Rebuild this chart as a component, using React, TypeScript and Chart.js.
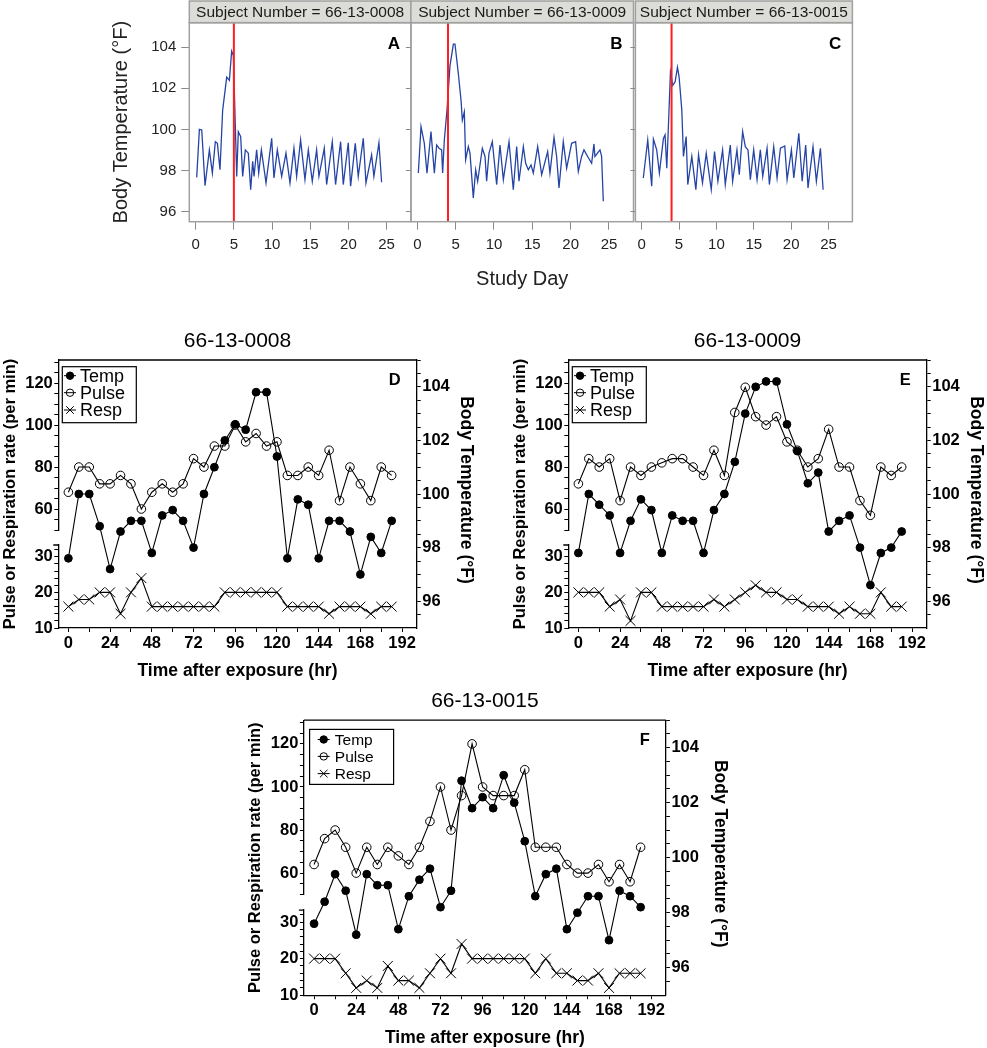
import { useEffect, useRef } from "react";
import { Chart, registerables } from "chart.js";

Chart.register(...registerables);

const FONT = "'Liberation Sans', Arial, Helvetica, sans-serif";

// ---------- panels A-C : whole study temperature record ----------
const subjects = ["66-13-0008", "66-13-0009", "66-13-0015"];
const exposureDay = [5, 4, 4];
const dayTicks = [0, 5, 10, 15, 20, 25];
const studyTempTicks = [96, 98, 100, 102, 104];

// [study day, body temperature °F]
const record0008 = [
  [0.13, 97.66], [0.48, 100.0], [0.79, 99.97], [1.22, 97.26], [1.79, 99.0], [2.18, 97.87],
  [2.57, 99.4], [2.84, 99.32], [3.18, 98.03], [3.53, 100.94], [4.06, 102.55], [4.41, 102.39],
  [4.71, 103.81], [4.93, 103.6], [5.37, 97.71], [5.58, 99.89], [5.89, 99.65], [6.15, 97.71],
  [6.5, 99.0], [6.89, 98.84], [7.2, 97.06], [7.46, 98.44], [7.64, 97.71], [7.98, 99.0],
  [8.25, 97.87], [8.6, 99.0], [9.21, 97.39], [9.95, 99.56], [10.25, 97.63], [10.69, 99.0],
  [11.26, 97.71], [11.82, 98.84], [12.35, 97.39], [12.87, 99.08], [13.22, 97.71], [13.74, 99.48],
  [14.31, 97.55], [14.75, 99.0], [15.27, 97.47], [15.84, 99.0], [16.14, 97.71], [16.84, 99.08],
  [17.15, 97.31], [17.89, 99.4], [18.32, 97.31], [18.98, 99.4], [19.33, 97.31], [19.98, 99.35],
  [20.29, 97.23], [20.9, 99.32], [21.29, 97.71], [21.95, 99.56], [22.3, 97.39], [23.04, 98.76],
  [23.34, 97.71], [24.0, 99.35], [24.35, 97.42],
];
const record0009 = [
  [0.13, 97.87], [0.48, 100.13], [0.91, 99.32], [1.26, 97.87], [1.78, 99.89], [2.22, 97.87],
  [2.52, 99.24], [2.83, 99.08], [3.17, 99.0], [3.3, 97.87], [3.52, 99.48], [3.87, 100.94],
  [4.26, 103.11], [4.7, 104.16], [4.91, 104.16], [5.35, 102.71], [5.7, 101.42], [5.87, 100.45],
  [6.13, 100.85], [6.3, 98.52], [6.65, 99.16], [6.87, 98.84], [7.3, 96.66], [7.61, 98.03],
  [7.87, 97.47], [8.48, 99.08], [8.83, 98.68], [9.04, 97.47], [9.35, 98.84], [9.78, 99.4],
  [10.35, 97.31], [10.78, 99.24], [11.22, 97.55], [11.96, 99.4], [12.52, 97.06], [12.96, 99.16],
  [13.26, 97.47], [13.83, 99.16], [14.13, 98.35], [14.48, 98.03], [14.83, 98.27], [15.13, 97.87],
  [15.7, 99.16], [16.22, 97.79], [17.0, 98.92], [17.3, 97.87], [17.83, 99.61], [18.17, 98.68],
  [18.48, 97.15], [19.04, 99.4], [19.48, 98.11], [20.13, 99.32], [20.65, 99.4], [21.0, 97.95],
  [21.43, 98.68], [21.74, 99.0], [22.22, 98.68], [22.74, 98.35], [23.04, 99.29], [23.17, 98.68],
  [23.83, 99.0], [24.04, 98.68], [24.26, 96.5],
];
const record0015 = [
  [0.22, 97.63], [0.81, 99.48], [1.34, 97.23], [1.57, 99.52], [2.01, 99.0], [2.37, 97.87],
  [2.91, 99.56], [3.13, 99.73], [3.36, 98.11], [3.71, 101.42], [3.85, 102.79], [4.16, 102.15],
  [4.47, 102.31], [4.79, 103.03], [5.01, 102.55], [5.37, 100.94], [5.59, 98.68], [5.95, 99.65],
  [6.17, 97.31], [6.71, 98.68], [7.25, 97.06], [7.61, 98.76], [8.14, 97.39], [8.64, 98.84],
  [9.31, 97.06], [9.75, 98.92], [10.2, 97.47], [10.83, 99.0], [11.19, 97.31], [11.86, 99.24],
  [12.17, 97.47], [12.75, 99.0], [13.06, 97.79], [13.51, 99.89], [13.87, 99.16], [14.23, 99.0],
  [14.54, 97.55], [14.99, 99.0], [15.44, 97.55], [15.88, 99.0], [16.2, 97.71], [16.78, 99.08],
  [17.09, 97.31], [17.67, 99.16], [18.12, 97.63], [18.57, 99.08], [19.15, 99.19], [19.46, 97.55],
  [20.04, 99.0], [20.36, 97.63], [21.03, 99.81], [21.48, 97.47], [21.95, 99.24], [22.26, 97.15],
  [22.93, 99.16], [23.38, 97.47], [23.92, 99.08], [24.28, 97.06],
];

// ---------- panels D-F : vital signs after exposure ----------
const hours = [
  0, 6, 12, 18, 24, 30, 36, 42, 48, 54, 60, 66, 72, 78, 84, 90,
  96, 102, 108, 114, 120, 126, 132, 138, 144, 150, 156, 162, 168, 174, 180, 186,
];
const hourTicks = [0, 24, 48, 72, 96, 120, 144, 168, 192];
const rateTicksUpper = [60, 80, 100, 120];
const rateTicksLower = [10, 20, 30];
const bodyTempTicks = [96, 98, 100, 102, 104];

const temp0008 = [97.6, 100.0, 100.0, 98.8, 97.2, 98.6, 99.0, 99.0, 97.8, 99.2, 99.4, 99.0, 98.0, 100.0, 101.0, 102.0, 102.6, 102.4, 103.8, 103.8, 101.4, 97.6, 99.8, 99.6, 97.6, 99.0, 99.0, 98.6, 97.0, 98.4, 97.8, 99.0];
const pulse0008 = [68, 80, 80, 72, 72, 76, 72, 60, 68, 72, 68, 72, 84, 80, 90, 90, 100, 92, 96, 90, 92, 76, 76, 80, 76, 88, 64, 80, 72, 64, 80, 76];
const resp0008 = [16, 18, 18, 20, 20, 14, 20, 24, 16, 16, 16, 16, 16, 16, 16, 20, 20, 20, 20, 20, 20, 16, 16, 16, 16, 14, 16, 16, 16, 14, 16, 16];

const temp0009 = [97.8, 100.0, 99.6, 99.2, 97.8, 99.0, 99.8, 99.4, 97.8, 99.2, 99.0, 99.0, 97.8, 99.4, 100.0, 101.2, 103.0, 104.0, 104.2, 104.2, 102.6, 101.6, 100.4, 100.8, 98.6, 99.0, 99.2, 98.0, 96.6, 97.8, 98.0, 98.6];
const pulse0009 = [72, 84, 80, 84, 64, 80, 76, 80, 82, 84, 84, 80, 76, 88, 76, 106, 118, 104, 100, 104, 92, 88, 80, 84, 98, 80, 80, 64, 57, 80, 76, 80];
const resp0009 = [20, 20, 20, 16, 18, 12, 20, 20, 16, 16, 16, 16, 16, 18, 16, 18, 20, 22, 20, 20, 18, 18, 16, 16, 16, 14, 16, 14, 14, 20, 16, 16];

const temp0015 = [97.6, 98.4, 99.4, 98.8, 97.2, 99.4, 99.0, 99.0, 97.4, 98.6, 99.2, 99.6, 98.2, 98.8, 102.8, 101.8, 102.2, 101.8, 103.0, 102.0, 100.6, 98.6, 99.4, 99.6, 97.4, 98.0, 98.6, 98.6, 97.0, 98.8, 98.6, 98.2];
const pulse0015 = [64, 76, 80, 72, 60, 72, 64, 72, 68, 64, 72, 84, 100, 80, 96, 120, 100, 96, 96, 96, 108, 72, 72, 72, 64, 60, 60, 64, 56, 64, 56, 72];
const resp0015 = [20, 20, 20, 16, 12, 14, 12, 18, 14, 14, 12, 16, 20, 16, 24, 20, 20, 20, 20, 20, 20, 16, 20, 16, 16, 14, 14, 16, 12, 16, 16, 16];

type Box = { x: number; y: number; w: number; h: number };
type Area = { l: number; t: number; r: number; b: number };

const ticksAt = (values: number[]) => (scale: any) => {
  scale.ticks = values.map((value) => ({ value }));
};
const fixWidth = (w: number) => (scale: any) => {
  scale.width = w;
};
const fixHeight = (h: number) => (scale: any) => {
  scale.height = h;
};
// minor tick positions for an axis
const between = (from: number, to: number, step: number) => {
  const out: number[] = [];
  for (let v = from; v <= to + 1e-9; v += step) out.push(Math.round(v * 100) / 100);
  return out;
};

const STUDY_X = [-0.84, 28.2];
const STUDY_Y = [95.5, 105.2];

function TempPanel(props: {
  box: Box;
  area: Area;
  record: number[][];
  exposure: number;
  subject: string;
  letter: string;
  first?: boolean;
  xTitle?: boolean;
}) {
  const ref = useRef<HTMLCanvasElement>(null);
  const { box, area } = props;

  useEffect(() => {
    if (!ref.current) return;
    const yW = 45;
    const xH = 40;
    const grey = "#a0a0a0";

    const decor = {
      id: "studyDecor",
      afterDraw(c: any) {
        const { ctx } = c;
        const { left, top, right, bottom } = c.chartArea;
        ctx.save();
        ctx.fillStyle = "#dcdcd8";
        ctx.fillRect(left, 1, right - left, top - 1);
        ctx.strokeStyle = grey;
        ctx.lineWidth = 1.5;
        ctx.strokeRect(left, 1, right - left, top - 1);
        ctx.strokeRect(left, top, right - left, bottom - top);

        ctx.fillStyle = "#1a1a1a";
        ctx.font = `15.5px ${FONT}`;
        ctx.textAlign = "center";
        ctx.textBaseline = "middle";
        ctx.fillText(`Subject Number = ${props.subject}`, (left + right) / 2, top / 2 + 1);

        ctx.fillStyle = "#000";
        ctx.font = `bold 17px ${FONT}`;
        ctx.textAlign = "right";
        ctx.fillText(props.letter, right - 11, top + 22);

        ctx.fillStyle = "#222";
        ctx.textAlign = "center";
        if (props.first) {
          ctx.save();
          ctx.translate(left - 68, (top + bottom) / 2);
          ctx.rotate(-Math.PI / 2);
          ctx.font = `20px ${FONT}`;
          ctx.fillText("Body Temperature (°F)", 0, 0);
          ctx.restore();
        }
        if (props.xTitle) {
          ctx.font = `20px ${FONT}`;
          ctx.fillText("Study Day", (left + right) / 2, bottom + 58);
        }
        ctx.restore();
      },
    };

    const chart = new Chart(ref.current, {
      type: "line",
      data: {
        datasets: [
          {
            data: [
              { x: props.exposure, y: STUDY_Y[0] },
              { x: props.exposure, y: STUDY_Y[1] },
            ],
            borderColor: "#ff1f1f",
            borderWidth: 2,
            pointRadius: 0,
          },
          {
            data: props.record.map(([x, y]) => ({ x, y })),
            borderColor: "#2544a6",
            borderWidth: 1.3,
            pointRadius: 0,
            tension: 0,
          },
        ],
      },
      options: {
        responsive: false,
        animation: false,
        events: [],
        layout: {
          padding: {
            left: area.l - box.x - yW,
            top: area.t - box.y,
            right: box.x + box.w - area.r,
            bottom: box.y + box.h - area.b - xH,
          },
        },
        plugins: { legend: { display: false }, tooltip: { enabled: false } },
        scales: {
          x: {
            type: "linear",
            min: STUDY_X[0],
            max: STUDY_X[1],
            afterBuildTicks: ticksAt(dayTicks),
            afterFit: fixHeight(xH),
            grid: { drawOnChartArea: false, tickLength: 8, color: "#8a8a8a" },
            border: { display: false },
            ticks: { font: { family: FONT, size: 15 }, color: "#222", padding: 6, maxRotation: 0, autoSkip: false },
          },
          y: {
            type: "linear",
            min: STUDY_Y[0],
            max: STUDY_Y[1],
            afterBuildTicks: ticksAt(studyTempTicks),
            afterFit: fixWidth(yW),
            grid: { drawOnChartArea: false, tickLength: props.first ? 8 : 5, color: "#8a8a8a" },
            border: { display: false },
            ticks: { display: !!props.first, font: { family: FONT, size: 15 }, color: "#222", padding: 5, autoSkip: false },
          },
        },
      } as any,
      plugins: [decor],
    });
    return () => chart.destroy();
  }, []);

  return (
    <canvas
      ref={ref}
      width={box.w}
      height={box.h}
      style={{ position: "absolute", left: box.x, top: box.y, width: box.w, height: box.h }}
    />
  );
}

type LegendStyle = { x: number; y: number; w: number; h: number; sx: number; tx: number; rows: number[]; size: number };

function drawMarker(ctx: CanvasRenderingContext2D, style: string, filled: boolean, x: number, y: number, r: number) {
  ctx.beginPath();
  if (style === "crossRot") {
    ctx.moveTo(x - r, y - r);
    ctx.lineTo(x + r, y + r);
    ctx.moveTo(x - r, y + r);
    ctx.lineTo(x + r, y - r);
    ctx.stroke();
    return;
  }
  ctx.arc(x, y, r, 0, Math.PI * 2);
  if (filled) ctx.fill();
  ctx.stroke();
}

function VitalsPanel(props: {
  box: Box;
  area: Area;
  subject: string;
  letter: string;
  temp: number[];
  pulse: number[];
  resp: number[];
  legend: LegendStyle;
  rightTitleDx: number;
}) {
  const ref = useRef<HTMLCanvasElement>(null);
  const { box, area } = props;

  useEffect(() => {
    if (!ref.current) return;
    const sideW = 38;
    const xH = 30;
    const tickFont = { family: FONT, size: 16.5, weight: "bold" };

    const decor = {
      id: "vitalsDecor",
      afterDraw(c: any) {
        const { ctx, scales } = c;
        const { left, top, right, bottom } = c.chartArea;
        ctx.save();
        ctx.strokeStyle = "#000";
        ctx.fillStyle = "#000";
        ctx.lineWidth = 1.3;
        ctx.beginPath();
        ctx.moveTo(left, top);
        ctx.lineTo(right, top);
        // end cap on the lower part of the broken left axis
        ctx.moveTo(left - 5, scales.yResp.top);
        ctx.lineTo(left, scales.yResp.top);
        ctx.stroke();

        // legend
        const L = props.legend;
        ctx.lineWidth = 1.2;
        ctx.strokeRect(left + L.x, top + L.y, L.w, L.h);
        ctx.font = `${L.size}px ${FONT}`;
        ctx.textAlign = "left";
        ctx.textBaseline = "middle";
        c.data.datasets.forEach((ds: any, i: number) => {
          const cx = left + L.sx;
          const cy = top + L.rows[i];
          ctx.lineWidth = 1;
          ctx.beginPath();
          ctx.moveTo(cx - 6, cy);
          ctx.lineTo(cx + 6, cy);
          ctx.stroke();
          drawMarker(ctx, ds.pointStyle, ds.pointBackgroundColor === "#000", cx, cy, ds.pointStyle === "crossRot" ? 3.8 : 3.7);
          ctx.fillText(ds.label, left + L.tx, cy + 1);
        });

        // panel letter and titles
        ctx.font = `bold 16.5px ${FONT}`;
        ctx.textAlign = "right";
        ctx.fillText(props.letter, right - 16, top + 20);

        ctx.textAlign = "center";
        ctx.textBaseline = "alphabetic";
        ctx.font = `21px ${FONT}`;
        ctx.fillText(props.subject, (left + right) / 2, top - 13);

        ctx.textBaseline = "middle";
        ctx.font = `bold 17.5px ${FONT}`;
        ctx.fillText("Time after exposure (hr)", (left + right) / 2, bottom + 43);

        ctx.save();
        ctx.translate(left - 48, (top + bottom) / 2);
        ctx.rotate(-Math.PI / 2);
        ctx.font = `bold 16.5px ${FONT}`;
        ctx.fillText("Pulse or Respiration rate (per min)", 0, 0);
        ctx.restore();

        ctx.save();
        ctx.translate(right + props.rightTitleDx, (top + bottom) / 2 - 4);
        ctx.rotate(Math.PI / 2);
        ctx.font = `bold 17.5px ${FONT}`;
        ctx.fillText("Body Temperature (°F)", 0, 0);
        ctx.restore();
        ctx.restore();
      },
    };

    const axisCommon = (major: number[], minor: number[]) => ({
      type: "linear",
      afterBuildTicks: ticksAt(minor),
      grid: { drawOnChartArea: false, tickLength: 4, color: "#000", lineWidth: 1 },
      border: { display: true, color: "#000", width: 1.3 },
      ticks: {
        font: tickFont,
        color: "#000",
        padding: 1.5,
        autoSkip: false,
        maxRotation: 0,
        callback: (v: number) => (major.includes(v) ? String(v) : ""),
      },
    });

    const series = (values: number[]) => values.map((y, i) => ({ x: hours[i], y }));

    const chart = new Chart(ref.current, {
      type: "line",
      data: {
        datasets: [
          {
            label: "Temp",
            data: series(props.temp),
            yAxisID: "yTemp",
            borderColor: "#000",
            borderWidth: 1.1,
            pointStyle: "circle",
            pointRadius: 3.9,
            pointBackgroundColor: "#000",
            pointBorderColor: "#000",
            pointBorderWidth: 1,
            clip: false,
          },
          {
            label: "Pulse",
            data: series(props.pulse),
            yAxisID: "yPulse",
            borderColor: "#000",
            borderWidth: 1.1,
            pointStyle: "circle",
            pointRadius: 4.3,
            pointBackgroundColor: "rgba(0,0,0,0)",
            pointBorderColor: "#000",
            pointBorderWidth: 1,
            clip: false,
          },
          {
            label: "Resp",
            data: series(props.resp),
            yAxisID: "yResp",
            borderColor: "#000",
            borderWidth: 1.1,
            pointStyle: "crossRot",
            pointRadius: 7,
            pointBorderColor: "#000",
            pointBorderWidth: 1,
            clip: false,
          },
        ],
      },
      options: {
        responsive: false,
        animation: false,
        events: [],
        layout: {
          padding: {
            left: area.l - box.x - sideW,
            top: area.t - box.y,
            right: box.x + box.w - area.r - sideW,
            bottom: box.y + box.h - area.b - xH,
          },
        },
        plugins: { legend: { display: false }, tooltip: { enabled: false } },
        scales: {
          x: { ...axisCommon(hourTicks, between(0, 192, 12)), position: "bottom", min: -5.8, max: 200.4, afterFit: fixHeight(xH) },
          yTemp: { ...axisCommon(bodyTempTicks, between(95.5, 105, 0.5)), position: "right", min: 95, max: 105, afterFit: fixWidth(sideW) },
          yPulse: {
            ...axisCommon(rateTicksUpper, between(50, 130, 5)),
            position: "left",
            stack: "rate",
            stackWeight: 170,
            weight: 3,
            min: 50,
            max: 131,
            afterFit: fixWidth(sideW),
          },
          yGap: {
            type: "linear",
            position: "left",
            stack: "rate",
            stackWeight: 15,
            weight: 2,
            min: 0,
            max: 1,
            afterFit: fixWidth(sideW),
            grid: { display: false },
            border: { display: false },
            ticks: { display: false },
          },
          yResp: {
            ...axisCommon(rateTicksLower, between(10, 32, 2)),
            position: "left",
            stack: "rate",
            stackWeight: 83,
            weight: 1,
            min: 10,
            max: 33.3,
            afterFit: fixWidth(sideW),
          },
        },
      } as any,
      plugins: [decor],
    });
    return () => chart.destroy();
  }, []);

  return (
    <canvas
      ref={ref}
      width={box.w}
      height={box.h}
      style={{ position: "absolute", left: box.x, top: box.y, width: box.w, height: box.h }}
    />
  );
}

const legendDE: LegendStyle = { x: 4, y: 6.7, w: 74, h: 56, sx: 11.7, tx: 21.7, rows: [15.7, 32.7, 50], size: 18 };
const legendF: LegendStyle = { x: 5.7, y: 9.2, w: 84, h: 55, sx: 19.8, tx: 30.9, rows: [19.3, 36.2, 53.4], size: 15.5 };

export default function App() {
  return (
    <div style={{ position: "absolute", left: 0, top: 0, width: 987, height: 1048, background: "#fff", overflow: "hidden" }}>
      <TempPanel
        box={{ x: 90, y: 0, w: 335, h: 300 }}
        area={{ l: 189.3, t: 22.7, r: 411, b: 221.7 }}
        record={record0008}
        exposure={exposureDay[0]}
        subject={subjects[0]}
        letter="A"
        first
      />
      <TempPanel
        box={{ x: 355, y: 0, w: 290, h: 300 }}
        area={{ l: 410.9, t: 22.7, r: 633.5, b: 221.7 }}
        record={record0009}
        exposure={exposureDay[1]}
        subject={subjects[1]}
        letter="B"
        xTitle
      />
      <TempPanel
        box={{ x: 580, y: 0, w: 285, h: 300 }}
        area={{ l: 635.4, t: 22.7, r: 852.4, b: 221.7 }}
        record={record0015}
        exposure={exposureDay[2]}
        subject={subjects[2]}
        letter="C"
      />
      <VitalsPanel
        box={{ x: 0, y: 300, w: 500, h: 400 }}
        area={{ l: 58.3, t: 360, r: 416.7, b: 628 }}
        subject={subjects[0]}
        letter="D"
        temp={temp0008}
        pulse={pulse0008}
        resp={resp0008}
        legend={legendDE}
        rightTitleDx={49}
      />
      <VitalsPanel
        box={{ x: 510, y: 300, w: 477, h: 400 }}
        area={{ l: 568.3, t: 360, r: 926.7, b: 628 }}
        subject={subjects[1]}
        letter="E"
        temp={temp0009}
        pulse={pulse0009}
        resp={resp0009}
        legend={legendDE}
        rightTitleDx={49}
      />
      <VitalsPanel
        box={{ x: 245, y: 680, w: 500, h: 368 }}
        area={{ l: 303.9, t: 720.2, r: 665.9, b: 995.2 }}
        subject={subjects[2]}
        letter="F"
        temp={temp0015}
        pulse={pulse0015}
        resp={resp0015}
        legend={legendF}
        rightTitleDx={54}
      />
    </div>
  );
}
